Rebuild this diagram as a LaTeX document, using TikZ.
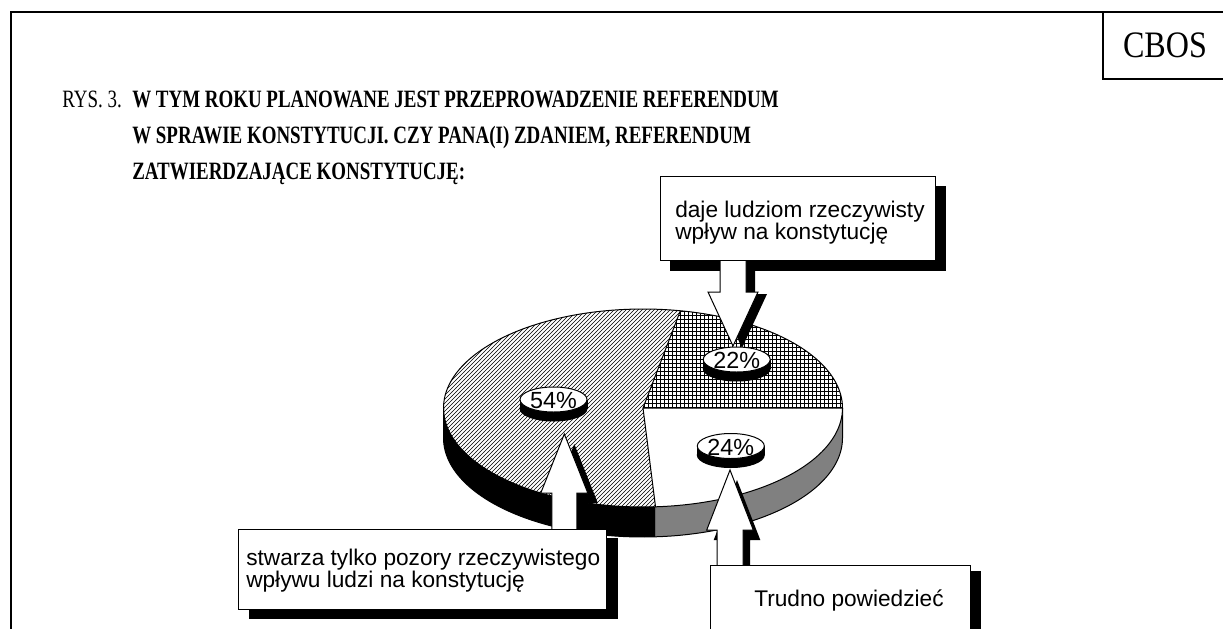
\documentclass[tikz,border=0pt]{standalone}
\usepackage{fontspec}
\setmainfont{Liberation Serif}
\newfontfamily\ttlfont[FakeStretch=0.76]{Liberation Serif}
\newfontfamily\cbosfont[FakeStretch=0.86]{Liberation Serif}
\newfontfamily\arialfont{Liberation Sans}
\usetikzlibrary{shapes.geometric,patterns}
\pgfdeclarelayer{pielayer}
\pgfdeclarelayer{shadowlayer}
\pgfdeclarelayer{arrowlayer}
\pgfdeclarelayer{labelbase}
\pgfsetlayers{pielayer,shadowlayer,arrowlayer,labelbase,main}
\pgfdeclarepatternformonly{thickgrid}{\pgfqpoint{-1pt}{-1pt}}{\pgfqpoint{4pt}{4pt}}{\pgfqpoint{3pt}{3pt}}{%
  \pgfsetlinewidth{0.75pt}%
  \pgfpathmoveto{\pgfqpoint{0pt}{0pt}}\pgfpathlineto{\pgfqpoint{0pt}{3.1pt}}%
  \pgfpathmoveto{\pgfqpoint{0pt}{0pt}}\pgfpathlineto{\pgfqpoint{3.1pt}{0pt}}%
  \pgfusepath{stroke}}
\pgfdeclarepatternformonly{hatchlines}{\pgfqpoint{-1pt}{-1pt}}{\pgfqpoint{4pt}{4pt}}{\pgfqpoint{3pt}{3pt}}{%
  \pgfsetlinewidth{0.5pt}%
  \pgfpathmoveto{\pgfqpoint{0pt}{0pt}}\pgfpathlineto{\pgfqpoint{3.1pt}{3.1pt}}%
  \pgfusepath{stroke}}
% block arrow: style, x, tip y, head-base y, end y, head half width, shaft half width
\newcommand\myBlkArrow[7]{%
  \path[#1] (#2,#3) -- ({#2+#6},#4) -- ({#2+#7},#4) -- ({#2+#7},#5) -- ({#2-#7},#5) -- ({#2-#7},#4) -- ({#2-#6},#4) -- cycle;}
\def\pcx{643}\def\pcy{408}\def\prx{199.5}\def\pry{99}\def\pdep{30}
\begin{document}
\begin{tikzpicture}[x=0.75pt,y=-0.75pt,
  frameline/.style={line width=1.6pt},
  pieline/.style={line width=0.75pt},
  box/.style={draw, fill=white, line width=0.75pt, inner sep=0pt},
  boxtext/.style={anchor=north west, inner sep=0pt, align=left, font=\arialfont\fontsize{17pt}{15pt}\selectfont},
  pctell/.style={ellipse, draw, fill=white, line width=0.75pt, minimum width=50.25pt, minimum height=18.75pt, inner sep=0pt},
  pctbase/.style={ellipse, draw, fill=black, line width=0.75pt, minimum width=50.25pt, minimum height=18.75pt, inner sep=0pt},
  pcttext/.style={inner sep=0pt, font=\arialfont\fontsize{17.5pt}{17.5pt}\selectfont},
  arrowbody/.style={fill=white, draw=black, line width=0.75pt, line join=miter},
  shadowfill/.style={fill=black},
  ttlreg/.style={anchor=base west, inner sep=0pt, font=\ttlfont\fontsize{18.7pt}{18.7pt}\selectfont},
  ttlbold/.style={anchor=base west, inner sep=0pt, font=\ttlfont\bfseries\fontsize{18.7pt}{18.7pt}\selectfont},
]
\useasboundingbox (0,0) rectangle (1223,628);
% frame
\draw[frameline] (11,640) -- (11,12) -- (1230,12);
\draw[frameline] (1103,12) -- (1103,79) -- (1230,79);
\node[font=\cbosfont\fontsize{28pt}{28pt}\selectfont, inner sep=0pt] (cbos) at (1165,45) {CBOS};
% title
\node[ttlreg] (rys) at (62,107.5) {RYS. 3.};
\node[ttlbold] (q1) at (132,107.5) {W TYM ROKU PLANOWANE JEST PRZEPROWADZENIE REFERENDUM};
\node[ttlbold] (q2) at (132,143.5) {W SPRAWIE KONSTYTUCJI. CZY PANA(I) ZDANIEM, REFERENDUM};
\node[ttlbold] (q3) at (132,179) {ZATWIERDZAJĄCE KONSTYTUCJĘ:};
% pie
\begin{pgfonlayer}{pielayer}
  \fill[black] plot[domain=180:273.6, samples=60] ({\pcx+\prx*cos(\x)},{\pcy-\pry*sin(\x)})
     -- plot[domain=273.6:180, samples=60] ({\pcx+\prx*cos(\x)},{\pcy+\pdep-\pry*sin(\x)}) -- cycle;
  \fill[gray] plot[domain=273.6:360, samples=60] ({\pcx+\prx*cos(\x)},{\pcy-\pry*sin(\x)})
     -- plot[domain=360:273.6, samples=60] ({\pcx+\prx*cos(\x)},{\pcy+\pdep-\pry*sin(\x)}) -- cycle;
  \draw[pieline] (\pcx-\prx,\pcy) -- (\pcx-\prx,\pcy+\pdep)
     -- plot[domain=180:360, samples=100] ({\pcx+\prx*cos(\x)},{\pcy+\pdep-\pry*sin(\x)}) -- (\pcx+\prx,\pcy);
  \fill[white] (\pcx,\pcy) -- plot[domain=273.6:360, samples=60] ({\pcx+\prx*cos(\x)},{\pcy-\pry*sin(\x)}) -- cycle;
  \path[pattern=thickgrid] (\pcx,\pcy) -- plot[domain=0:79.2, samples=60] ({\pcx+\prx*cos(\x)},{\pcy-\pry*sin(\x)}) -- cycle;
  \path[pattern=hatchlines] (\pcx,\pcy) -- plot[domain=79.2:273.6, samples=100] ({\pcx+\prx*cos(\x)},{\pcy-\pry*sin(\x)}) -- cycle;
  \draw[pieline] plot[domain=0:360, samples=180] ({\pcx+\prx*cos(\x)},{\pcy-\pry*sin(\x)}) -- cycle;
  \draw[pieline] ({\pcx+\prx*cos(79.2)},{\pcy-\pry*sin(79.2)}) -- (\pcx,\pcy) -- (\pcx+\prx,\pcy);
  \draw[pieline] (\pcx,\pcy) -- ({\pcx+\prx*cos(273.6)},{\pcy-\pry*sin(273.6)});
\end{pgfonlayer}
% boxes
\node[box, minimum width=206.25pt, minimum height=62.5pt] (b1) at (798.2,218.35) {};
\node[box, minimum width=276.3pt, minimum height=60.5pt] (b2) at (422.5,569.65) {};
\node[box, minimum width=195pt, minimum height=67.5pt] (b3) at (840,610.7) {};
\node[boxtext] (t1) at (675,200.5) {daje ludziom rzeczywisty\\wpływ na konstytucję};
\node[boxtext] (t2) at (246,548.5) {stwarza tylko pozory rzeczywistego\\wpływu ludzi na konstytucję};
\node[boxtext] (t3) at (754,589.5) {Trudno powiedzieć};
% shadows
\begin{pgfonlayer}{shadowlayer}
  \fill[shadowfill] ([shift={(10,10)}]b1.north west) rectangle ([shift={(10,10)}]b1.south east);
  \fill[shadowfill] ([shift={(11,9)}]b2.north west) rectangle ([shift={(11,9)}]b2.south east);
  \fill[shadowfill] ([shift={(10,6)}]b3.north west) rectangle ([shift={(10,6)}]b3.south east);
  \myBlkArrow{shadowfill, shift={(9,2)}}{733}{346}{292}{255}{25}{13}
  \myBlkArrow{shadowfill, shift={(10,10)}}{564.3}{434}{493}{535}{23.5}{12.5}
  \myBlkArrow{shadowfill, shift={(7,10)}}{730}{470}{530}{572}{23.3}{13}
\end{pgfonlayer}
% arrows
\begin{pgfonlayer}{arrowlayer}
  \myBlkArrow{arrowbody}{733}{346}{292}{255}{25}{13}
  \myBlkArrow{arrowbody}{564.3}{434}{493}{535}{23.5}{12.5}
  \myBlkArrow{arrowbody}{730}{470}{530}{572}{23.3}{13}
\end{pgfonlayer}
% percentage labels
\node[pctbase] (l54b) at (553.5,408.5) {};
\node[pctell] (l54e) at (553.5,399.5) {};
\node[pcttext] (l54) at (553.5,400.5) {54\%};
\node[pctbase] (l22b) at (736.7,368.5) {};
\node[pctell] (l22e) at (736.7,359.5) {};
\node[pcttext] (l22) at (736.7,360.5) {22\%};
\node[pctbase] (l24b) at (730.8,455) {};
\node[pctell] (l24e) at (730.8,446) {};
\node[pcttext] (l24) at (730.8,447) {24\%};
\begin{pgfonlayer}{labelbase}
  \fill[black] (l54e.west) rectangle (l54b.east);
  \fill[black] (l22e.west) rectangle (l22b.east);
  \fill[black] (l24e.west) rectangle (l24b.east);
\end{pgfonlayer}
\end{tikzpicture}
\end{document}
